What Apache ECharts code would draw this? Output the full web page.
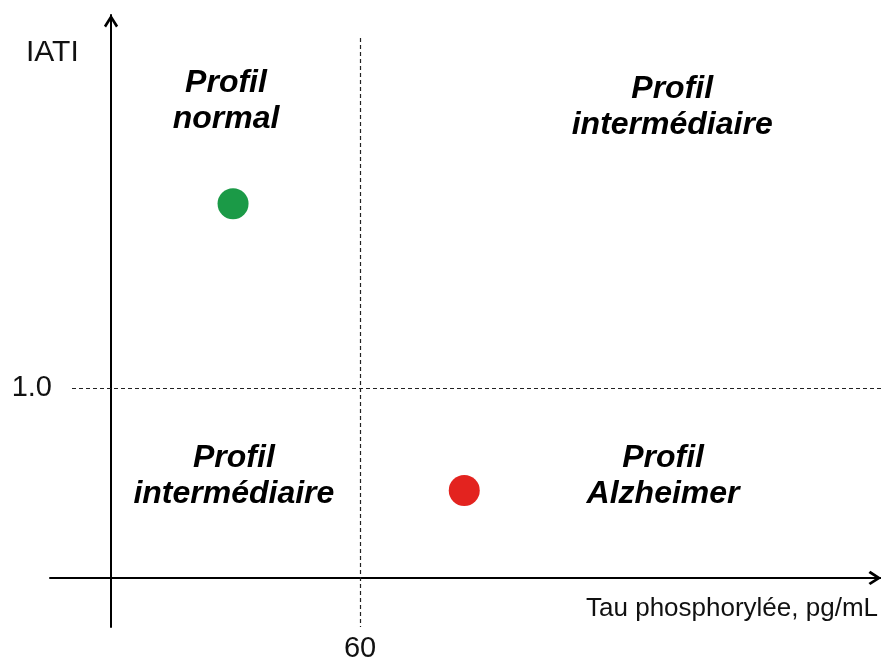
<!DOCTYPE html>
<html>
<head>
<meta charset="utf-8">
<title>Profils IATI / Tau phosphorylée</title>
<script src="https://cdn.jsdelivr.net/npm/echarts@6/dist/echarts.min.js"></script>
<style>
    html, body { margin: 0; padding: 0; background: #fff; }
    #chart { width: 881px; height: 661px; }
</style>
</head>
<body>
<div id="chart"></div>
<script>
    // seuils
    var seuilTau = 60;
    var seuilIATI = 1.0;

    // patients (points)
    var pointsX = [29.4, 85.1];
    var pointsY = [1.97, 0.46];
    var pointsCouleur = ['#1b9a47', '#e3231f'];

    // étiquettes des quadrants
    var profils = ['Profil\nnormal', 'Profil\nintermédiaire', 'Profil\nintermédiaire', 'Profil\nAlzheimer'];
    var profilsX = [27.7, 135.2, 29.6, 133.0];
    var profilsY = [2.51, 2.48, 0.535, 0.535];

    var police = 'Liberation Sans, Arial, sans-serif';
    // chevron ouvert pour le bout des axes
    var fleche = 'path://M0,11 L7,0 L14,11 L11.9,12.8 L7,5 L2.1,12.8 Z';

    var myChart = echarts.init(document.getElementById('chart'));

    var option = {
        backgroundColor: '#fff',
        animation: false,
        title: [
            {
                text: 'IATI', left: 26, top: 38, padding: 0,
                textStyle: { fontFamily: police, fontSize: 30, fontWeight: 'normal', color: '#111' }
            },
            {
                text: 'Tau phosphorylée, pg/mL', right: 3, top: 596, padding: 0,
                textStyle: { fontFamily: police, fontSize: 26, fontWeight: 'normal', color: '#111' }
            }
        ],
        grid: { left: 50, right: 0, top: 15, bottom: 34, outerBoundsMode: 'none', containLabel: false },
        xAxis: {
            type: 'value',
            min: -14.7,
            max: 185.5,
            axisLine: {
                onZero: true,
                symbol: ['none', fleche],
                symbolSize: [15, 13],
                symbolOffset: [0, -6],
                lineStyle: { color: '#000', width: 2 }
            },
            axisTick: { show: false },
            splitLine: { show: false },
            axisLabel: { show: false }
        },
        yAxis: {
            type: 'value',
            min: -0.258,
            max: 2.963,
            axisLine: {
                onZero: true,
                symbol: ['none', fleche],
                symbolSize: [15, 13],
                symbolOffset: [0, -6],
                lineStyle: { color: '#000', width: 2 }
            },
            axisTick: { show: false },
            splitLine: { show: false },
            axisLabel: { show: false }
        },
        series: [
            {
                name: 'patients',
                type: 'scatter',
                symbolSize: 31,
                z: 5,
                itemStyle: { opacity: 1 },
                data: pointsX.map(function (x, i) {
                    return { value: [x, pointsY[i]], itemStyle: { color: pointsCouleur[i], opacity: 1 } };
                }),
                markLine: {
                    silent: true,
                    symbol: ['none', 'none'],
                    lineStyle: { color: '#222', width: 1.2, type: [4, 3], opacity: 1 },
                    label: {
                        show: true,
                        fontFamily: police,
                        fontSize: 29,
                        color: '#111'
                    },
                    data: [
                        [
                            { coord: [seuilTau, 2.842], label: { position: 'end', distance: 7, formatter: String(seuilTau) } },
                            { coord: [seuilTau, -0.258] }
                        ],
                        [
                            { coord: [-9.4, seuilIATI], label: { position: 'start', distance: 20, formatter: seuilIATI.toFixed(1) } },
                            { coord: [185.5, seuilIATI] }
                        ]
                    ]
                }
            },
            {
                name: 'profils',
                type: 'scatter',
                symbolSize: 0,
                silent: true,
                itemStyle: { opacity: 1 },
                data: profils.map(function (p, i) {
                    return { name: p, value: [profilsX[i], profilsY[i]] };
                }),
                label: {
                    show: true,
                    position: 'inside',
                    formatter: '{b}',
                    fontFamily: police,
                    fontSize: 32,
                    fontWeight: 'bold',
                    fontStyle: 'italic',
                    lineHeight: 36,
                    color: '#000',
                    align: 'center'
                },
                emphasis: { disabled: true }
            }
        ]
    };

    myChart.setOption(option);
</script>
</body>
</html>
